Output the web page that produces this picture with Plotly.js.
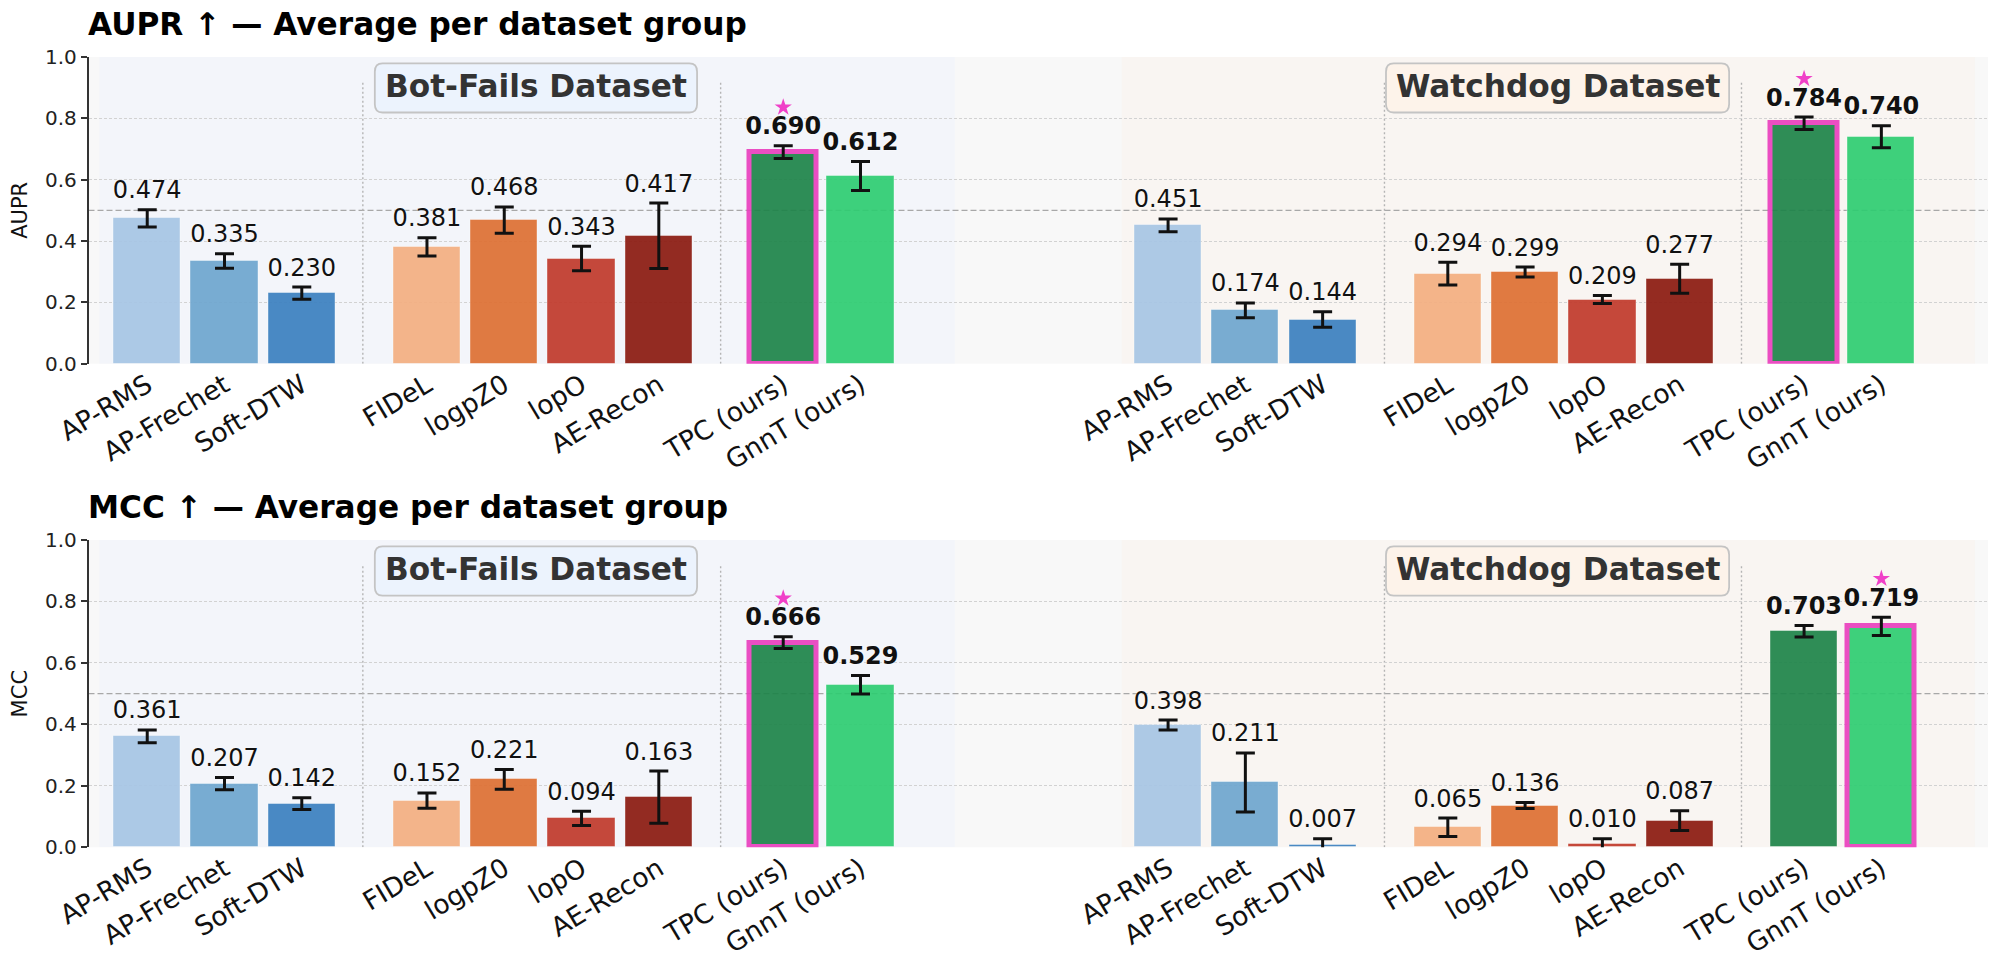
<!DOCTYPE html>
<html>
<head>
<meta charset="utf-8">
<script src="https://cdn.plot.ly/plotly-3.0.1.min.js"></script>
<style>html,body{margin:0;padding:0;background:#fff}</style>
</head>
<body>
<div id="chart" style="width:2000px;height:960px"></div>
<script>
const methods = ["AP-RMS","AP-Frechet","Soft-DTW","FIDeL","logpZ0","lopO","AE-Recon","TPC (ours)","GnnT (ours)"];
const barColors = ["#a7c5e4","#6ea5cf","#3b7fbf","#f3ae80","#de6f32","#c0392b","#8b1a10","#1e8449","#2ecc71"];
const slots = [0.02,1.02,2.02,3.64,4.64,5.64,6.64,8.25,9.25];
const watchdogOffset = 13.21;
const isOurs = [false,false,false,false,false,false,false,true,true];

const auprBot = [0.474,0.335,0.230,0.381,0.468,0.343,0.417,0.690,0.612];
const auprBotErr = [0.028,0.0235,0.02,0.03,0.043,0.04,0.107,0.021,0.047];
const auprDog = [0.451,0.174,0.144,0.294,0.299,0.209,0.277,0.784,0.740];
const auprDogErr = [0.021,0.024,0.025,0.037,0.016,0.013,0.047,0.02,0.036];
const mccBot = [0.361,0.207,0.142,0.152,0.221,0.094,0.163,0.666,0.529];
const mccBotErr = [0.021,0.02,0.019,0.025,0.032,0.023,0.085,0.019,0.03];
const mccDog = [0.398,0.211,0.007,0.065,0.136,0.010,0.087,0.703,0.719];
const mccDogErr = [0.016,0.096,0.021,0.03,0.01,0.018,0.032,0.019,0.03];

const yTicks = [0,0.2,0.4,0.6,0.8,1.0];
const FONT = "DejaVu Sans, sans-serif";
const STAR = "#f040c8", HILITE = "#ea3fbe";

const xBot = slots.slice();
const xDog = slots.map(s => s + watchdogOffset);
const xAll = xBot.concat(xDog);
const tickAll = methods.concat(methods);
const xRange = [-0.74, 23.84];
const bestIdx = a => a.indexOf(Math.max(...a));

function panel(n, vBot, eBot, vDog, eDog) {
  const sfx = n === 1 ? "" : "2";
  const xa = "x" + sfx, ya = "y" + sfx;
  const vals = vBot.concat(vDog), errs = eBot.concat(eDog);
  const colors = barColors.concat(barColors);
  const bestB = bestIdx(vBot), bestD = bestIdx(vDog) + methods.length;
  const hi = i => i === bestB || i === bestD;
  const idx = vals.map((_, i) => i);
  const bars = {
    type: "bar", x: xAll, y: vals, xaxis: xa, yaxis: ya, width: 0.87, showlegend: false,
    marker: {
      color: colors, opacity: 0.92,
      line: { color: idx.map(i => hi(i) ? HILITE : "rgba(255,255,255,0.4)"),
              width: idx.map(i => hi(i) ? 5 : 1) }
    },
    error_y: { type: "data", array: errs, visible: true, color: "#111", thickness: 3, width: 9.5 }
  };
  const labels = {
    type: "scatter", mode: "text", x: xAll, y: vals.map((v, i) => v + errs[i] + 0.057),
    xaxis: xa, yaxis: ya, showlegend: false, cliponaxis: false,
    text: vals.map(v => v.toFixed(3)),
    textposition: "middle center",
    textfont: {
      family: FONT, size: 24, color: "#111",
      weight: isOurs.concat(isOurs).map(b => b ? 700 : 400),
      shadow: "0px 0px 2px #fff"
    }
  };
  const stars = {
    type: "scatter", mode: "markers", xaxis: xa, yaxis: ya, showlegend: false, cliponaxis: false,
    x: [xAll[bestB], xAll[bestD]],
    y: [bestB, bestD].map(i => vals[i] + errs[i] + 0.125),
    marker: { symbol: "star", size: 13, color: STAR, line: { width: 0 } }
  };
  return [bars, labels, stars];
}

function roundBox(cx, cy, hw, hh) {
  const rx = 0.1, ry = 0.027;
  const l = cx - hw, r = cx + hw, b = cy - hh, t = cy + hh;
  return `M${l + rx},${b} L${r - rx},${b} Q${r},${b} ${r},${b + ry} L${r},${t - ry} Q${r},${t} ${r - rx},${t} ` +
         `L${l + rx},${t} Q${l},${t} ${l},${t - ry} L${l},${b + ry} Q${l},${b} ${l + rx},${b} Z`;
}

function panelShapes(sfx) {
  const xref = "x" + sfx, yref = "y" + sfx;
  const base = { xref, yref };
  const s = [];
  s.push({ ...base, type: "rect", layer: "below", x0: -0.6, x1: 10.47, y0: 0, y1: 1, fillcolor: "#f3f5fa", line: { width: 0 } });
  s.push({ ...base, type: "rect", layer: "below", x0: 12.63, x1: 23.67, y0: 0, y1: 1, fillcolor: "#f9f5f2", line: { width: 0 } });
  s.push({ ...base, type: "line", layer: "below", x0: xRange[0], x1: xRange[1], y0: 0.5, y1: 0.5,
           line: { color: "#a8a8a8", width: 1.4, dash: "6px,3px" } });
  [2.81, 7.44, 16.03, 20.65].forEach(x => s.push({ ...base, type: "line", layer: "below", x0: x, x1: x, y0: 0, y1: 0.92,
           line: { color: "#b4b4b4", width: 1.4, dash: "2px,2.5px" } }));
  s.push({ ...base, type: "path", layer: "above", path: roundBox(5.05, 0.899, 2.085, 0.08), fillcolor: "#ecf3fd", line: { color: "#c4c4c4", width: 1.8 } });
  s.push({ ...base, type: "path", layer: "above", path: roundBox(18.27, 0.899, 2.22, 0.08), fillcolor: "#fdf3ea", line: { color: "#c4c4c4", width: 1.8 } });
  return s;
}

function axisX(anchor) {
  return {
    domain: [88.5 / 2000, 1988 / 2000], range: xRange, anchor, showgrid: false, zeroline: false, showline: false,
    tickmode: "array", tickvals: xAll, ticktext: tickAll, tickangle: -31, ticks: "",
    tickfont: { family: FONT, size: 26.5, color: "#111" }, ticklabelstandoff: 0, automargin: false
  };
}
function axisY(anchor, top, bottom, title) {
  return {
    domain: [1 - bottom / 960, 1 - top / 960], range: [0, 1], anchor, fixedrange: true,
    tickmode: "array", tickvals: yTicks, ticktext: yTicks.map(v => v.toFixed(1)),
    tickfont: { family: FONT, size: 20, color: "#222" },
    ticks: "outside", ticklen: 6, tickwidth: 1.5, tickcolor: "#333",
    showline: true, linecolor: "#333", linewidth: 1.5,
    showgrid: true, gridcolor: "#d2d2d2", gridwidth: 1, griddash: "3px,2px", zeroline: false,
    title: { text: title, font: { family: FONT, size: 21, color: "#111" }, standoff: 11.5 }, automargin: false
  };
}
function datasetLabel(sfx, x, text) {
  return { xref: "x" + sfx, yref: "y" + sfx, x, y: 0.907, text, showarrow: false, xanchor: "center", yanchor: "middle",
           font: { family: FONT, size: 31.2, weight: 700, color: "#333" } };
}
function panelTitle(y, text) {
  return { xref: "paper", yref: "paper", x: 86 / 2000, y: 1 - y / 960, text, showarrow: false, xanchor: "left", yanchor: "middle",
           font: { family: FONT, size: 31.2, weight: 700, color: "#000" } };
}

const data = panel(1, auprBot, auprBotErr, auprDog, auprDogErr)
  .concat(panel(2, mccBot, mccBotErr, mccDog, mccDogErr));

const layout = {
  width: 2000, height: 960, margin: { l: 0, r: 0, t: 0, b: 0 },
  paper_bgcolor: "#fff", plot_bgcolor: "#f8f8f8", showlegend: false, bargap: 0,
  xaxis: axisX("y"), yaxis: axisY("x", 57, 363.7, "AUPR"),
  xaxis2: axisX("y2"), yaxis2: axisY("x2", 540, 847.3, "MCC"),
  shapes: panelShapes("").concat(panelShapes("2")),
  annotations: [
    panelTitle(24, "AUPR ↑ — Average per dataset group"),
    panelTitle(507, "MCC ↑ — Average per dataset group"),
    datasetLabel("", 5.05, "Bot-Fails Dataset"),
    datasetLabel("", 18.27, "Watchdog Dataset"),
    datasetLabel("2", 5.05, "Bot-Fails Dataset"),
    datasetLabel("2", 18.27, "Watchdog Dataset")
  ]
};
Plotly.newPlot("chart", data, layout, { displayModeBar: false, responsive: false });
</script>
</body>
</html>
